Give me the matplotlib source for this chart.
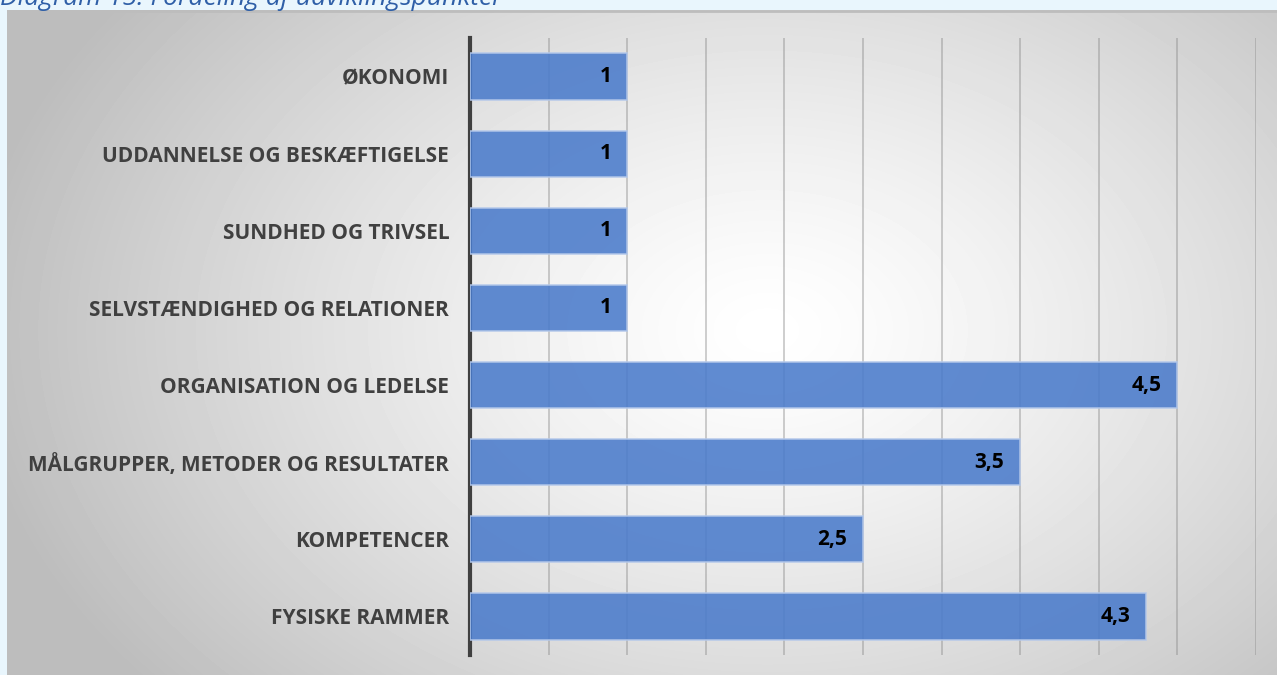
import numpy as np
import matplotlib
matplotlib.use("Agg")
from matplotlib import pyplot as plt

# data, bottom to top as drawn
categories = ["FYSISKE RAMMER", "KOMPETENCER", "MÅLGRUPPER, METODER OG RESULTATER",
              "ORGANISATION OG LEDELSE", "SELVSTÆNDIGHED OG RELATIONER",
              "SUNDHED OG TRIVSEL", "UDDANNELSE OG BESKÆFTIGELSE", "ØKONOMI"]
values = [4.3, 2.5, 3.5, 4.5, 1, 1, 1, 1]
title = "Diagram 15: Fordeling af udviklingspunkter"

W, H = 1277, 675
fig = plt.figure(figsize=(W / 100, H / 100), dpi=100)
fig.patch.set_facecolor("#e9f6fd")

# gradient panel behind the chart
bg = fig.add_axes([7 / W, 0, 1 - 7 / W, 1 - 10 / H])
yy, xx = np.mgrid[0:665, 0:1270]
d = np.sqrt(((xx - 760) / 800.0) ** 2 + ((yy - 320) / 560.0) ** 2)
d = np.clip(d, 0, 1)
shade = 1.0 - 0.26 * d ** 1.3
bg.imshow(shade, cmap="gray", vmin=0, vmax=1, aspect="auto", interpolation="bilinear")
bg.axhline(0, color="#bdbdbd", lw=2)
bg.set_axis_off()

ax = fig.add_axes([470 / W, 1 - 655 / H, (1256 - 470) / W, (655 - 38) / H])
ax.patch.set_visible(False)
y = np.arange(len(categories))
bars = ax.barh(y, values, height=0.6, color="#4a7bcb", alpha=0.88,
               edgecolor="#b4c8ea", linewidth=1.2, zorder=3)
for yi, v in zip(y, values):
    ax.text(v - 0.1, yi, ("%g" % v).replace(".", ","), ha="right", va="center",
            fontsize=15, fontweight="bold", color="black", family="Open Sans", zorder=4)

ax.set_xlim(0, 5)
ax.set_ylim(-0.5, len(categories) - 0.5)
ax.set_xticks(np.arange(0.5, 5.01, 0.5))
ax.xaxis.grid(True, color="#8a8a8a", alpha=0.45, lw=1.3, zorder=1)
ax.tick_params(axis="x", length=0, labelbottom=False)
ax.tick_params(axis="y", length=0, pad=15)
ax.set_yticks(y)
ax.set_yticklabels(categories, fontsize=15, fontweight="bold", color="#404040", family="Open Sans")
for s in ["top", "right", "bottom"]:
    ax.spines[s].set_visible(False)
ax.spines["left"].set_color("#404040")
ax.spines["left"].set_linewidth(3)

fig.text(0.0, 1 - 5 / H, title, ha="left", va="baseline", fontsize=19, style="italic",
         color="#2f5fa7", family="Open Sans")

fig.savefig("out.png", dpi=100, facecolor=fig.get_facecolor())
